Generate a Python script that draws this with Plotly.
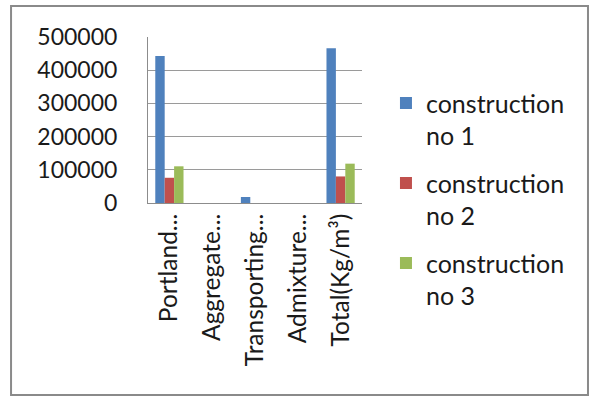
import plotly.graph_objects as go

categories = ["Portland...", "Aggregate...", "Transporting...", "Admixture...", "Total(Kg/m³)"]
series_names = ["construction<br>no 1", "construction<br>no 2", "construction<br>no 3"]
construction_1 = [443000, 0, 18000, 0, 466000]
construction_2 = [76000, 0, 0, 0, 80000]
construction_3 = [110500, 0, 0, 0, 118500]
series_colors = ["#4F81BD", "#C0504D", "#9BBB59"]
y_ticks = [0, 100000, 200000, 300000, 400000, 500000]

FONT = "Lato, Open Sans, sans-serif"

fig = go.Figure()
for i, (name, vals, col) in enumerate(zip(series_names, [construction_1, construction_2, construction_3], series_colors)):
    fig.add_trace(go.Bar(
        x=categories, y=vals, name=name,
        marker=dict(color=col, line=dict(width=0)),
        legendgroup=f"g{i}",
    ))

fig.update_layout(
    width=590, height=397,
    margin=dict(l=148, r=228, t=37, b=194),
    paper_bgcolor="white", plot_bgcolor="white",
    barmode="group", bargap=0.34, bargroupgap=0,
    font=dict(family=FONT, size=22, color="#1a1a1a"),
    showlegend=True,
    legend=dict(
        x=1.112, y=0.74, xanchor="left", yanchor="top",
        font=dict(family=FONT, size=25, color="#1a1a1a"),
        tracegroupgap=12, valign="top", maxheight=390,
        bgcolor="rgba(0,0,0,0)",
    ),
    xaxis=dict(
        tickangle=-90, showgrid=False, showline=True, linecolor="#8c8c8c", linewidth=1,
        ticks="", tickfont=dict(family=FONT, size=24.5, color="#1a1a1a"),
    ),
    yaxis=dict(
        range=[0, 500000], tickvals=y_ticks, ticktext=[str(v) for v in y_ticks],
        showgrid=True, gridcolor="#9a9a9a", gridwidth=1,
        showline=True, linecolor="#8c8c8c", linewidth=1,
        zeroline=False, ticks="", ticklabelstandoff=25,
        tickfont=dict(family=FONT, size=23, color="#1a1a1a"),
    ),
)

# outer chart frame
fig.add_shape(type="rect", xref="paper", yref="paper",
              x0=-0.64, x1=2.056, y0=-1.157, y1=1.187,
              line=dict(color="#8a8a8a", width=2), fillcolor="rgba(0,0,0,0)")

fig.write_html("out.html")
